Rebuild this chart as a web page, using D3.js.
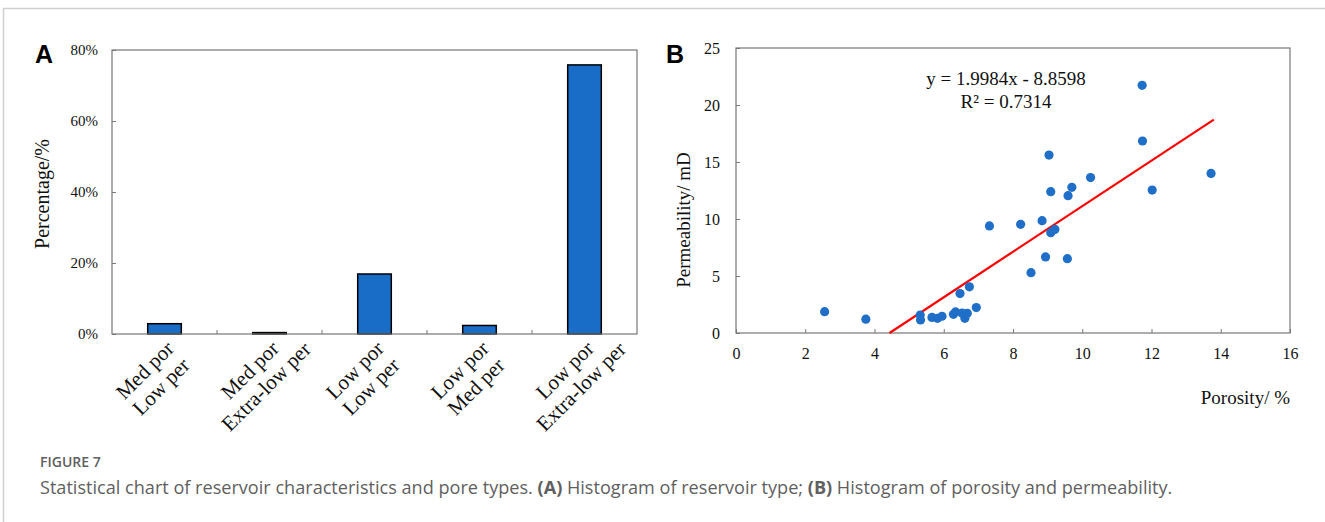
<!DOCTYPE html>
<html>
<head>
  <meta charset="UTF-8">
  <style>
    body { margin: 0; background: #fff; }
    svg { display: block; }
    .serif { font-family: 'Liberation Serif', 'Times New Roman', serif; fill: #111; }
    .cap { font-family: 'Open Sans', sans-serif; fill: #5f5f5f; }
  </style>
</head>
<body>
<svg width="1325" height="522"></svg>

<script src="https://d3js.org/d3.v7.min.js"></script>
<script>
// panel A data
let categories = [["Med por", "Low per"], ["Med por", "Extra-low per"], ["Low por", "Low per"], ["Low por", "Med per"], ["Low por", "Extra-low per"]];
let percents = [0.029, 0.004, 0.169, 0.024, 0.758];
let pctTicks = [0, 0.2, 0.4, 0.6, 0.8];

// panel B data
let porosity = [2.56, 3.75, 5.32, 5.33, 5.66, 5.82, 5.95, 6.28, 6.34, 6.47, 6.53, 6.61, 6.68, 6.74, 6.94, 7.32, 8.22, 8.52, 8.84, 8.94, 9.04, 9.09, 9.09, 9.21, 9.57, 9.59, 9.70, 10.24, 11.73, 11.74, 12.02, 13.72];
let permeability = [1.87, 1.21, 1.58, 1.14, 1.37, 1.29, 1.47, 1.64, 1.85, 3.46, 1.75, 1.29, 1.73, 4.05, 2.23, 9.39, 9.53, 5.29, 9.85, 6.67, 15.61, 12.40, 8.80, 9.09, 6.52, 12.05, 12.78, 13.63, 21.73, 16.84, 12.54, 14.0];
let xTicks = [0, 2, 4, 6, 8, 10, 12, 14, 16];
let yTicks = [0, 5, 10, 15, 20, 25];
let slope = 1.9984, intercept = -8.8598;

let svg = d3.select("svg");

// outer frame lines
svg.append("line").attr("x1", 3).attr("x2", 1325).attr("y1", 8.5).attr("y2", 8.5)
  .attr("stroke", "#cfcfcf").attr("stroke-width", 1.5);
svg.append("line").attr("x1", 3.5).attr("x2", 3.5).attr("y1", 8).attr("y2", 522)
  .attr("stroke", "#cfcfcf").attr("stroke-width", 1.5);

// ---------- Panel A ----------
let xa = d3.scaleBand().domain(d3.range(categories.length)).range([112, 637]).paddingInner(0.68).paddingOuter(0.34);
let xaEdge = d3.scaleBand().domain(d3.range(categories.length)).range([112, 637]);
let ya = d3.scaleLinear().domain([0, 0.8]).range([334, 50]);

let gA = svg.append("g");

gA.append("g").attr("transform", "translate(112,0)")
  .call(d3.axisLeft(ya).tickValues(pctTicks).tickFormat(d3.format(".0%")).tickSize(-4).tickPadding(14))
  .call(g => g.select(".domain").remove())
  .call(g => g.selectAll("line").attr("stroke", "#777"))
  .call(g => g.selectAll("text").attr("class", "serif").attr("font-size", 15).attr("fill", "#222"));

// category boundary ticks
gA.selectAll(".btick").data(d3.range(1, categories.length)).enter().append("line")
  .attr("x1", d => xaEdge(d)).attr("x2", d => xaEdge(d))
  .attr("y1", 334).attr("y2", 330).attr("stroke", "#777");

gA.selectAll(".bar").data(percents).enter().append("rect")
  .attr("x", (d, i) => xa(i)).attr("width", xa.bandwidth())
  .attr("y", d => ya(d)).attr("height", d => 334 - ya(d))
  .attr("fill", "#1a6dc6").attr("stroke", "#000").attr("stroke-width", 1.5);

gA.append("rect").attr("x", 112).attr("y", 50).attr("width", 525).attr("height", 284)
  .attr("fill", "none").attr("stroke", "#777").attr("stroke-width", 1.2);

// two-line labels, lines centred on a common axis, rotated -45
let lab = gA.selectAll(".clab").data(categories).enter().append("text")
  .attr("class", "serif").attr("font-size", 21).attr("text-anchor", "middle")
  .attr("transform", (d, i) => "translate(" + (xa(i) + xa.bandwidth() / 2 - 19) + ",371) rotate(-45)");
lab.append("tspan").attr("x", 0).attr("y", 6).text(d => d[0]);
lab.append("tspan").attr("x", 0).attr("dy", "1.1em").text(d => d[1]);

gA.append("text").attr("class", "serif").attr("font-size", 20).attr("text-anchor", "middle")
  .attr("transform", "translate(49,194) rotate(-90)").text("Percentage/%");

svg.append("text").attr("x", 35).attr("y", 63).attr("font-family", "'Liberation Sans', Arial, sans-serif")
  .attr("font-weight", "bold").attr("font-size", 25).text("A");

// ---------- Panel B ----------
let xb = d3.scaleLinear().domain([0, 16]).range([736, 1290]);
let yb = d3.scaleLinear().domain([0, 25]).range([333, 48]);
let gB = svg.append("g");

gB.append("g").attr("transform", "translate(0,333)")
  .call(d3.axisBottom(xb).tickValues(xTicks).tickSize(-4).tickPadding(15))
  .call(g => g.select(".domain").remove())
  .call(g => g.selectAll("line").attr("stroke", "#777"))
  .call(g => g.selectAll("text").attr("class", "serif").attr("font-size", 16).attr("fill", "#222"));

gB.append("g").attr("transform", "translate(736,0)")
  .call(d3.axisLeft(yb).tickValues(yTicks).tickSize(-4).tickPadding(16))
  .call(g => g.select(".domain").remove())
  .call(g => g.selectAll("line").attr("stroke", "#777"))
  .call(g => g.selectAll("text").attr("class", "serif").attr("font-size", 16).attr("fill", "#222"));

gB.append("rect").attr("x", 736).attr("y", 48).attr("width", 554).attr("height", 285)
  .attr("fill", "none").attr("stroke", "#777").attr("stroke-width", 1.2);

let x0 = -intercept / slope, x1 = 13.8;
gB.append("line")
  .attr("x1", xb(x0)).attr("y1", yb(slope * x0 + intercept))
  .attr("x2", xb(x1)).attr("y2", yb(slope * x1 + intercept))
  .attr("stroke", "#ff0000").attr("stroke-width", 2.2);

gB.selectAll(".dot").data(porosity).enter().append("circle")
  .attr("cx", d => xb(d)).attr("cy", (d, i) => yb(permeability[i]))
  .attr("r", 4.6).attr("fill", "#1f6fc8");

gB.append("text").attr("class", "serif").attr("font-size", 19).attr("text-anchor", "middle")
  .attr("x", 1006).attr("y", 85).text("y = 1.9984x - 8.8598");
gB.append("text").attr("class", "serif").attr("font-size", 19).attr("text-anchor", "middle")
  .attr("x", 1006).attr("y", 108).text("R² = 0.7314");

gB.append("text").attr("class", "serif").attr("font-size", 19).attr("text-anchor", "end")
  .attr("x", 1290).attr("y", 404).text("Porosity/ %");
gB.append("text").attr("class", "serif").attr("font-size", 19).attr("text-anchor", "middle")
  .attr("transform", "translate(690,220) rotate(-90)").text("Permeability/ mD");

svg.append("text").attr("x", 666).attr("y", 63).attr("font-family", "'Liberation Sans', Arial, sans-serif")
  .attr("font-weight", "bold").attr("font-size", 25).text("B");

// ---------- caption ----------
svg.append("text").attr("class", "cap").attr("x", 40).attr("y", 467)
  .attr("font-size", 14).attr("font-weight", 600).text("FIGURE 7");
let cap = svg.append("text").attr("class", "cap").attr("x", 40).attr("y", 494).attr("font-size", 18.1);
cap.append("tspan").text("Statistical chart of reservoir characteristics and pore types. ");
cap.append("tspan").attr("font-weight", "bold").text("(A)");
cap.append("tspan").text(" Histogram of reservoir type; ");
cap.append("tspan").attr("font-weight", "bold").text("(B)");
cap.append("tspan").text(" Histogram of porosity and permeability.");
</script>
</body>
</html>
